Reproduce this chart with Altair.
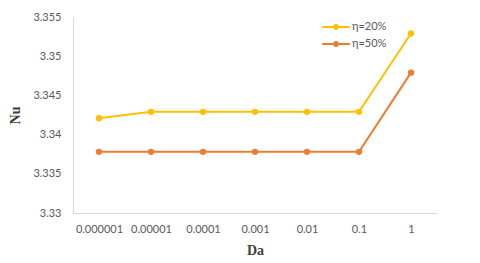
import altair as alt
import pandas as pd

da_labels = ["0.000001", "0.00001", "0.0001", "0.001", "0.01", "0.1", "1"]
nu_eta20 = [3.3421, 3.3429, 3.3429, 3.3429, 3.3429, 3.3429, 3.3529]
nu_eta50 = [3.3378, 3.3378, 3.3378, 3.3378, 3.3378, 3.3378, 3.3479]
series = ["η=20%", "η=50%"]
colors = ["#FFC000", "#ED7D31"]

rows = []
for s, vals in zip(series, [nu_eta20, nu_eta50]):
    for d, v in zip(da_labels, vals):
        rows.append({"Da": d, "Nu": v, "series": s})
df = pd.DataFrame(rows)

label_font = "Lato"
title_font = "Liberation Serif"

legend_symbol = ("M-1.6,0H1.6M-0.22,0a0.22,0.22 0 1,0 0.44,0a0.22,0.22 0 1,0 -0.44,0"
                 "M-0.11,0a0.11,0.11 0 1,0 0.22,0a0.11,0.11 0 1,0 -0.22,0")

chart = alt.Chart(df).mark_line(point=alt.OverlayMarkDef(size=40, filled=True), strokeWidth=2).encode(
    x=alt.X("Da:N", sort=da_labels, scale=alt.Scale(paddingInner=1, paddingOuter=0.5),
            axis=alt.Axis(title="Da", labelAngle=0, ticks=False, grid=False, labelPadding=10,
                          titlePadding=9)),
    y=alt.Y("Nu:Q", scale=alt.Scale(domain=[3.33, 3.355], nice=False, zero=False),
            axis=alt.Axis(title="Nu", values=[3.33, 3.335, 3.34, 3.345, 3.35, 3.355],
                          labelExpr="datum.value == 3.35 ? '3.35' : datum.value == 3.34 ? '3.34' : datum.value == 3.33 ? '3.33' : format(datum.value, '.3f')",
                          ticks=False, grid=False, labelPadding=12, titlePadding=10)),
    color=alt.Color("series:N", scale=alt.Scale(domain=series, range=colors),
                    legend=alt.Legend(title=None, orient="none", legendX=253, legendY=0,
                                      symbolType=legend_symbol, symbolStrokeWidth=2, symbolSize=300,
                                      labelFontSize=11, rowPadding=1, labelOffset=6)),
).properties(
    width=364, height=196,
    autosize=alt.AutoSizeParams(type="none"),
    padding={"left": 65, "top": 9, "right": 35, "bottom": 48},
).configure_axis(
    domainColor="#D9D9D9", domainWidth=1,
    labelColor="#595959", labelFont=label_font, labelFontSize=11,
    titleColor="#404040", titleFont=title_font, titleFontSize=14, titleFontWeight="bold",
).configure_legend(
    labelColor="#595959", labelFont=label_font,
).configure_view(stroke=None)

chart.save("out.html", embed_options={"renderer": "svg", "actions": False})
